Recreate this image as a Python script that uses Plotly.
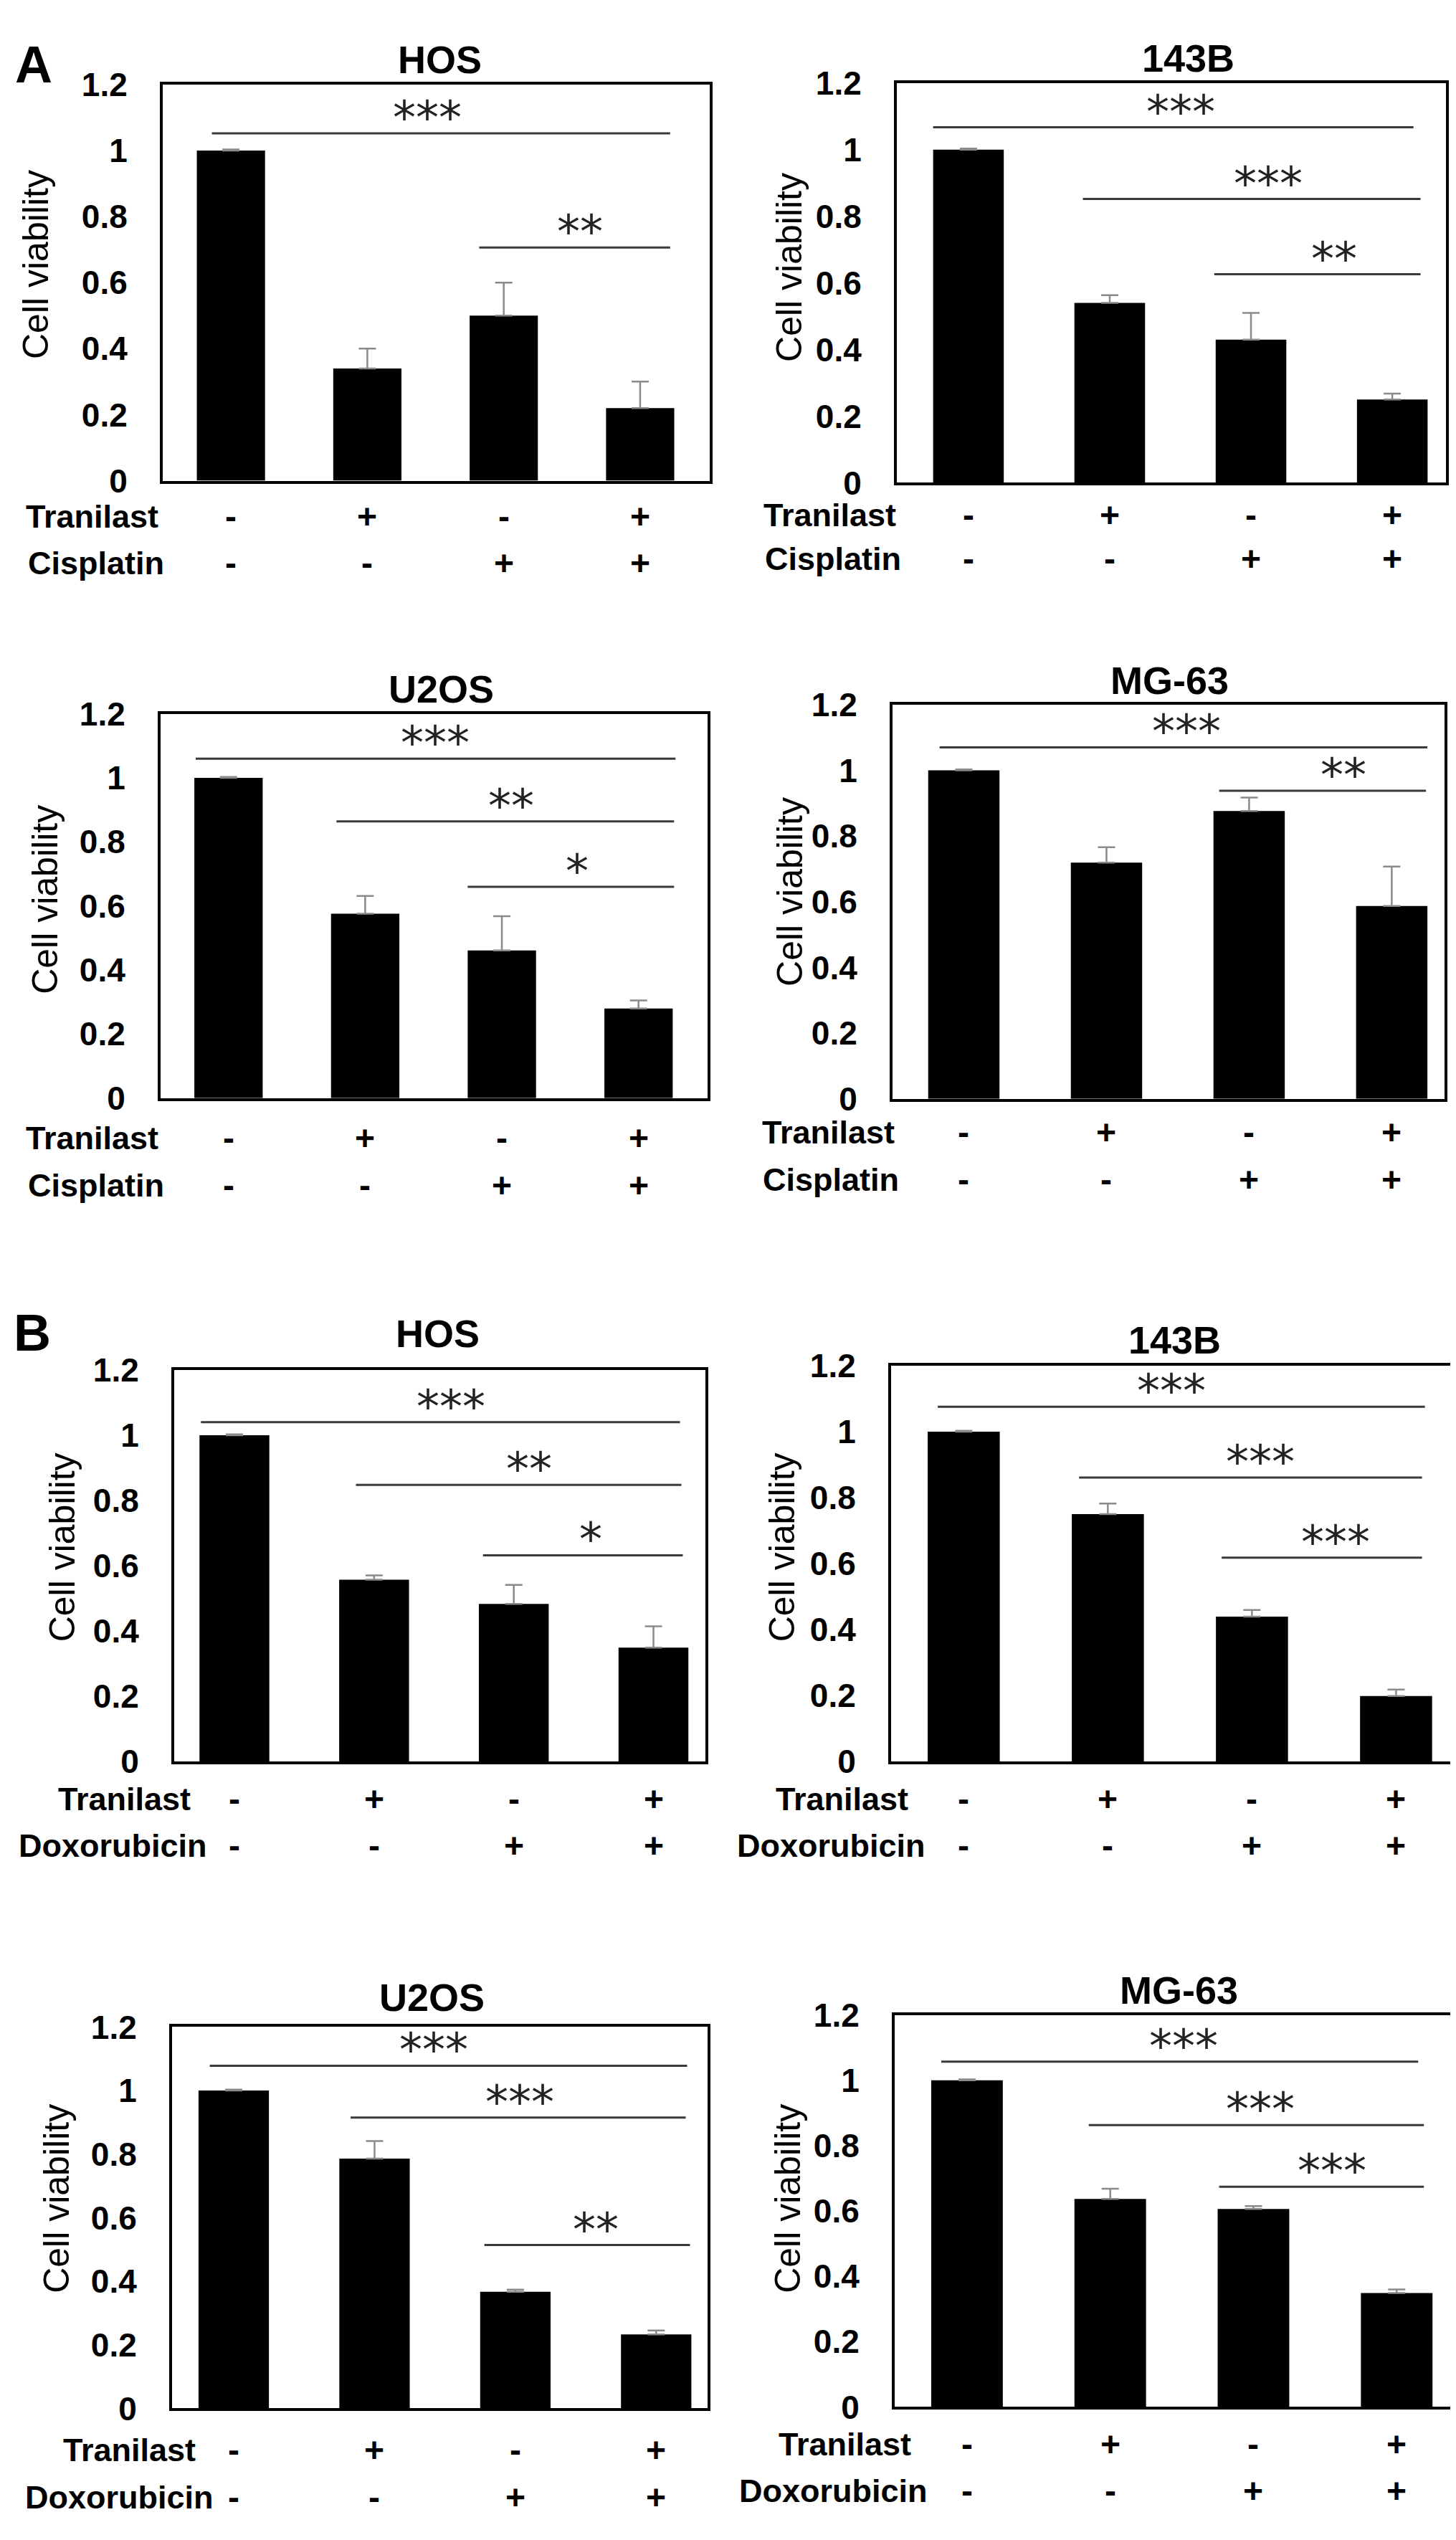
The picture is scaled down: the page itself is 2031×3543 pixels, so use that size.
import plotly.graph_objects as go

W, H = 2031, 3543

groups = [0, 1, 2, 3]
tranilast = ["-", "+", "-", "+"]
drug = ["-", "-", "+", "+"]

# A: Tranilast + Cisplatin
cis_hos_mean = [1.00, 0.34, 0.50, 0.22]
cis_hos_err = [0.003, 0.06, 0.10, 0.08]
cis_hos_sig = [(0, 3, "***"), (2, 3, "**")]

cis_143b_mean = [1.00, 0.54, 0.43, 0.25]
cis_143b_err = [0.003, 0.023, 0.08, 0.018]
cis_143b_sig = [(0, 3, "***"), (1, 3, "***"), (2, 3, "**")]

cis_u2os_mean = [1.00, 0.576, 0.461, 0.28]
cis_u2os_err = [0.003, 0.055, 0.107, 0.025]
cis_u2os_sig = [(0, 3, "***"), (1, 3, "**"), (2, 3, "*")]

cis_mg63_mean = [1.00, 0.719, 0.876, 0.587]
cis_mg63_err = [0.003, 0.047, 0.041, 0.12]
cis_mg63_sig = [(0, 3, "***"), (2, 3, "**")]

# B: Tranilast + Doxorubicin
dox_hos_mean = [1.00, 0.557, 0.483, 0.349]
dox_hos_err = [0.003, 0.013, 0.058, 0.065]
dox_hos_sig = [(0, 3, "***"), (1, 3, "**"), (2, 3, "*")]

dox_143b_mean = [1.00, 0.75, 0.439, 0.198]
dox_143b_err = [0.003, 0.032, 0.02, 0.02]
dox_143b_sig = [(0, 3, "***"), (1, 3, "***"), (2, 3, "***")]

dox_u2os_mean = [1.00, 0.786, 0.367, 0.233]
dox_u2os_err = [0.003, 0.055, 0.007, 0.012]
dox_u2os_sig = [(0, 3, "***"), (1, 3, "***"), (2, 3, "**")]

dox_mg63_mean = [1.00, 0.637, 0.606, 0.349]
dox_mg63_err = [0.003, 0.031, 0.009, 0.011]
dox_mg63_sig = [(0, 3, "***"), (1, 3, "***"), (2, 3, "***")]

# panel placement in pixels: box (left, right, top, bottom), x range,
# title centre, y-title centre, row label left edges and row centres,
# bracket (x start, x end, height, star x)
panels = [
    dict(cell="HOS", drug="Cisplatin", mean=cis_hos_mean, err=cis_hos_err, sig=cis_hos_sig,
         box=(219, 982, 85, 646), xr=(-0.50, 3.51), title=(605, 50), ylab=(42, 340),
         rows_x=(26, 29), rows_y=(697, 763),
         br=[(-0.14, 3.22, 1.052, 1.44), (1.82, 3.22, 0.706, 2.56)]),
    dict(cell="143B", drug="Cisplatin", mean=cis_143b_mean, err=cis_143b_err, sig=cis_143b_sig,
         box=(1243, 2009, 83, 649), xr=(-0.507, 3.38), title=(1649, 48), ylab=(1093, 344),
         rows_x=(1055, 1057), rows_y=(695, 757),
         br=[(-0.25, 3.15, 1.067, 1.50), (0.81, 3.20, 0.852, 2.12), (1.74, 3.20, 0.626, 2.59)]),
    dict(cell="U2OS", drug="Cisplatin", mean=cis_u2os_mean, err=cis_u2os_err, sig=cis_u2os_sig,
         box=(216, 979, 976, 1520), xr=(-0.497, 3.505), title=(607, 941), ylab=(55, 1239),
         rows_x=(26, 29), rows_y=(1577, 1644),
         br=[(-0.24, 3.27, 1.06, 1.51), (0.79, 3.26, 0.864, 2.07), (1.75, 3.26, 0.66, 2.55)]),
    dict(cell="MG-63", drug="Cisplatin", mean=cis_mg63_mean, err=cis_mg63_err, sig=cis_mg63_sig,
         box=(1237, 2007, 963, 1521), xr=(-0.50, 3.37), title=(1623, 929), ylab=(1094, 1228),
         rows_x=(1053, 1054), rows_y=(1569, 1636),
         br=[(-0.17, 3.25, 1.07, 1.56), (1.79, 3.24, 0.938, 2.66)]),
    dict(cell="HOS", drug="Doxorubicin", mean=dox_hos_mean, err=dox_hos_err, sig=dox_hos_sig,
         box=(235, 976, 1905, 2459), xr=(-0.431, 3.372), title=(602, 1853), ylab=(79, 2156),
         rows_x=(71, 16), rows_y=(2512, 2578),
         br=[(-0.24, 3.19, 1.04, 1.55), (0.87, 3.20, 0.848, 2.11), (1.78, 3.21, 0.632, 2.55)]),
    dict(cell="143B", drug="Doxorubicin", mean=dox_143b_mean, err=dox_143b_err, sig=dox_143b_sig,
         box=(1235, 2015, 1899, 2459), xr=(-0.504, 3.376), title=(1630, 1862), ylab=(1083, 2156),
         rows_x=(1072, 1018), rows_y=(2512, 2578),
         br=[(-0.18, 3.20, 1.076, 1.44), (0.80, 3.18, 0.861, 2.06), (1.79, 3.18, 0.618, 2.58)]),
    dict(cell="U2OS", drug="Doxorubicin", mean=dox_u2os_mean, err=dox_u2os_err, sig=dox_u2os_sig,
         box=(232, 979, 2835, 3375), xr=(-0.438, 3.365), title=(594, 2793), ylab=(71, 3078),
         rows_x=(78, 25), rows_y=(3434, 3501),
         br=[(-0.17, 3.22, 1.078, 1.42), (0.83, 3.21, 0.915, 2.03), (1.78, 3.24, 0.514, 2.57)]),
    dict(cell="MG-63", drug="Doxorubicin", mean=dox_mg63_mean, err=dox_mg63_err, sig=dox_mg63_sig,
         box=(1240, 2015, 2818, 3373), xr=(-0.505, 3.374), title=(1636, 2783), ylab=(1091, 3078),
         rows_x=(1076, 1021), rows_y=(3426, 3492),
         br=[(-0.18, 3.15, 1.057, 1.51), (0.85, 3.19, 0.863, 2.05), (1.76, 3.19, 0.674, 2.55)]),
]

FONT = "Liberation Sans, Arial, sans-serif"


def px(x):
    return x / W


def py(y):
    return 1 - y / H


fig = go.Figure()
annotations = []
shapes = []
layout = {}

for n, p in enumerate(panels, start=1):
    xa = "x" if n == 1 else "x%d" % n
    ya = "y" if n == 1 else "y%d" % n
    left, right, top, bottom = p["box"]

    fig.add_trace(go.Bar(
        x=groups, y=p["mean"], width=0.5,
        marker=dict(color="black", line=dict(width=0)),
        error_y=dict(type="data", symmetric=False, array=p["err"], arrayminus=[0] * 4,
                     color="#8a8a8a", thickness=2.5, width=12),
        xaxis=xa, yaxis=ya, showlegend=False,
    ))

    layout["xaxis" if n == 1 else "xaxis%d" % n] = dict(
        domain=[px(left), px(right)], range=list(p["xr"]), anchor=ya,
        showticklabels=False, showgrid=False, zeroline=False, ticks="",
        showline=True, mirror=True, linecolor="black", linewidth=4,
    )
    layout["yaxis" if n == 1 else "yaxis%d" % n] = dict(
        domain=[py(bottom), py(top)], range=[0, 1.2], anchor=xa,
        tick0=0, dtick=0.2, showgrid=False, zeroline=False,
        ticks="outside", ticklen=0, ticklabelstandoff=36,
        tickfont=dict(family=FONT, size=46, color="black", weight="bold"),
        showline=True, mirror=True, linecolor="black", linewidth=4,
    )

    # cell line title
    annotations.append(dict(
        text=p["cell"], x=px(p["title"][0]), y=py(p["title"][1]),
        xref="paper", yref="paper", xanchor="center", yanchor="middle", showarrow=False,
        font=dict(family=FONT, size=54, color="black", weight="bold"),
    ))
    # y title
    annotations.append(dict(
        text="Cell viability", x=px(p["ylab"][0]), y=py(p["ylab"][1]), textangle=-90,
        xref="paper", yref="paper", xanchor="center", yanchor="middle", showarrow=False,
        font=dict(family=FONT, size=50, color="black"),
    ))
    # treatment rows
    for label, signs, lx, ly in [("Tranilast", tranilast, p["rows_x"][0], p["rows_y"][0]),
                                 (p["drug"], drug, p["rows_x"][1], p["rows_y"][1])]:
        annotations.append(dict(
            text=label, x=px(lx), y=py(ly), xref="paper", yref="paper",
            xanchor="left", yanchor="middle", showarrow=False,
            font=dict(family=FONT, size=45, color="black", weight="bold"),
        ))
        for g, s in zip(groups, signs):
            annotations.append(dict(
                text=s, x=g, y=py(ly), xref=xa, yref="paper",
                xanchor="center", yanchor="middle", showarrow=False,
                font=dict(family=FONT, size=48, color="black", weight="bold"),
            ))
    # significance brackets
    for (g0, g1, stars), (x0, x1, level, sx) in zip(p["sig"], p["br"]):
        shapes.append(dict(
            type="line", xref=xa, yref=ya, x0=x0, x1=x1, y0=level, y1=level,
            line=dict(color="#3a3a3a", width=3),
        ))
        annotations.append(dict(
            text=stars, x=sx, y=level, xref=xa, yref=ya, yshift=22,
            xanchor="center", yanchor="middle", showarrow=False,
            font=dict(family="DejaVu Sans", size=64, color="#222222"),
        ))

# panel letters
annotations.append(dict(text="A", x=px(39), y=py(57), xref="paper", yref="paper",
                        xanchor="center", yanchor="middle", showarrow=False,
                        font=dict(family=FONT, size=72, color="black", weight="bold")))
annotations.append(dict(text="B", x=px(37), y=py(1852), xref="paper", yref="paper",
                        xanchor="center", yanchor="middle", showarrow=False,
                        font=dict(family=FONT, size=72, color="black", weight="bold")))

fig.update_layout(
    width=W, height=H,
    margin=dict(l=0, r=0, t=0, b=0),
    paper_bgcolor="white", plot_bgcolor="white",
    annotations=annotations, shapes=shapes,
    **layout,
)

fig.write_html("out.html")
